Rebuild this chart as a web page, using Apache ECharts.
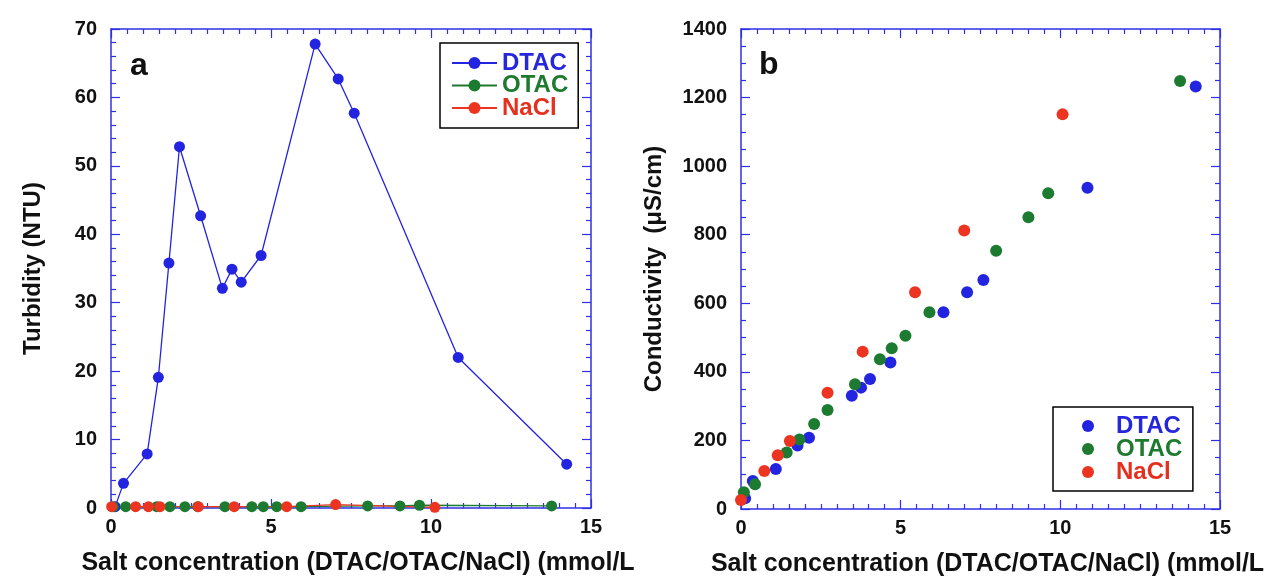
<!DOCTYPE html>
<html>
<head>
<meta charset="utf-8">
<script src="https://cdn.jsdelivr.net/npm/echarts/dist/echarts.min.js"></script>
<style>
html,body{margin:0;padding:0;background:#fff;}
#c{width:1265px;height:576px;}
</style>
</head>
<body>
<div id="c"></div>
<script>
// ---- Panel a: turbidity (NTU) ----
const dtacA_x = [0.13,0.39,1.13,1.48,1.81,2.14,2.80,3.48,3.78,4.07,4.69,6.38,7.10,7.60,10.85,14.24];
const dtacA_y = [0.2,3.6,7.9,19.1,35.8,52.8,42.7,32.1,34.9,33.0,36.9,67.8,62.7,57.7,22.0,6.4];
const otacA_x = [0.07,0.46,1.43,1.84,2.31,2.71,3.56,4.40,4.76,5.18,5.94,8.02,9.03,9.64,13.77];
const otacA_y = [0.2,0.2,0.2,0.2,0.2,0.2,0.2,0.2,0.2,0.2,0.2,0.3,0.3,0.4,0.3];
const naclA_x = [0.02,0.77,1.17,1.53,2.73,3.85,5.49,7.02,10.12];
const naclA_y = [0.2,0.2,0.2,0.2,0.2,0.2,0.2,0.5,0.1];

// ---- Panel b: conductivity (uS/cm) ----
const dtacB_x = [0.13,0.37,1.09,1.77,2.13,3.47,3.76,4.04,4.68,6.34,7.08,7.59,10.85,14.24];
const dtacB_y = [31,82,117,185,208,330,354,379,427,574,632,668,937,1232];
const otacB_x = [0.09,0.44,1.43,1.83,2.29,2.71,3.57,4.35,4.72,5.15,5.90,7.99,9.00,9.62,13.75];
const otacB_y = [49,72,165,203,248,289,364,437,469,505,574,753,851,921,1248];
const naclB_x = [0,0.73,1.15,1.53,2.71,3.81,5.45,6.99,10.07];
const naclB_y = [26,111,157,198,339,459,632,812,1151];

const seriesNames = ['DTAC','OTAC','NaCl'];
const xName = 'Salt concentration (DTAC/OTAC/NaCl) (mmol/L';
const yNameA = 'Turbidity (NTU)';
const yNameB = 'Conductivity  (\u03bcS/cm)';
const panelLabels = ['a','b'];

const C_BLUE = '#2224e0', C_GREEN = '#1c7b30', C_RED = '#ec3420';
const T_BLUE = '#2626dc', T_GREEN = '#1e7a2e', T_RED = '#e6301e';
const FRAME = '#2f2fe6';
const FONT = '"Liberation Sans", Arial, Helvetica, sans-serif';

const zip = (xs, ys) => xs.map((x, i) => [x, ys[i]]);

function axisBase(extra) {
  return Object.assign({
    type: 'value',
    axisLine: {show: true, onZero: false, lineStyle: {color: FRAME, width: 1.5}},
    axisTick: {show: true, inside: true, length: 9, lineStyle: {color: FRAME, width: 1.2}},
    splitLine: {show: false},
    minorSplitLine: {show: false}
  }, extra);
}

const labelStyle = {color: '#111', fontFamily: FONT, fontWeight: 'bold', fontSize: 20};
const nameStyle = {color: '#111', fontFamily: FONT, fontWeight: 'bold', fontSize: 24};
const xNameStyle = {color: '#111', fontFamily: FONT, fontWeight: 'bold', fontSize: 25, padding: [0, 0, 0, 14]};
const plain = (v) => String(v);

function xAxes(gi) {
  const mt = {show: true, splitNumber: 10, length: 5, lineStyle: {color: FRAME, width: 1.2}};
  return [
    axisBase({gridIndex: gi, min: 0, max: 15, interval: 5, position: 'bottom', minorTick: mt,
      axisLabel: Object.assign({margin: 9, formatter: plain}, labelStyle),
      name: xName, nameLocation: 'middle', nameGap: 43, nameTextStyle: xNameStyle}),
    axisBase({gridIndex: gi, min: 0, max: 15, interval: 5, position: 'top', minorTick: mt,
      axisLabel: {show: false}})
  ];
}
function yAxes(gi, max, interval, name, nameGap) {
  const mt = {show: true, splitNumber: interval === 10 ? 5 : 4, length: 5, lineStyle: {color: FRAME, width: 1.2}};
  return [
    axisBase({gridIndex: gi, min: 0, max: max, interval: interval, position: 'left', minorTick: mt,
      axisLabel: Object.assign({margin: 14, formatter: plain}, labelStyle),
      name: name, nameLocation: 'middle', nameGap: nameGap, nameRotate: 90, nameTextStyle: nameStyle}),
    axisBase({gridIndex: gi, min: 0, max: max, interval: interval, position: 'right', minorTick: mt,
      axisLabel: {show: false}})
  ];
}

const chart = echarts.init(document.getElementById('c'), null, {renderer: 'canvas'});
const legendText = (c) => ({color: c});
const option = {
  animation: false,
  backgroundColor: '#fff',
  title: [
    {text: panelLabels[0], left: 125, top: 45, textStyle: {fontFamily: FONT, fontWeight: 'bold', fontSize: 32, color: '#111'}},
    {text: panelLabels[1], left: 754, top: 44, textStyle: {fontFamily: FONT, fontWeight: 'bold', fontSize: 32, color: '#111'}}
  ],
  grid: [
    {left: 111, top: 29, width: 480, height: 479, containLabel: false, outerBoundsMode: 'none'},
    {left: 741, top: 29, width: 479, height: 480, containLabel: false, outerBoundsMode: 'none'}
  ],
  xAxis: [...xAxes(0), ...xAxes(1)],
  yAxis: [...yAxes(0, 70, 10, yNameA, 66), ...yAxes(1, 1400, 200, yNameB, 75)],
  legend: [
    {
      orient: 'vertical', left: 440, top: 43,
      padding: [8, 10, 8, 11], itemGap: -1.5,
      itemWidth: 45, itemHeight: 15,
      borderColor: '#000', borderWidth: 1.5,
      data: [
        {name: seriesNames[0], textStyle: legendText(T_BLUE)},
        {name: seriesNames[1], textStyle: legendText(T_GREEN)},
        {name: seriesNames[2], textStyle: legendText(T_RED)}
      ],
      textStyle: {fontFamily: FONT, fontWeight: 'bold', fontSize: 24}
    },
    {
      orient: 'vertical', left: 1053, top: 407,
      padding: [7, 4, 7, 29], itemGap: -1,
      itemWidth: 46, itemHeight: 12, icon: 'circle',
      borderColor: '#000', borderWidth: 1.5,
      data: [
        {name: seriesNames[0] + ' ', textStyle: legendText(T_BLUE)},
        {name: seriesNames[1] + ' ', textStyle: legendText(T_GREEN)},
        {name: seriesNames[2] + ' ', textStyle: legendText(T_RED)}
      ],
      textStyle: {fontFamily: FONT, fontWeight: 'bold', fontSize: 24}
    }
  ],
  series: [
    {name: seriesNames[0], type: 'line', xAxisIndex: 0, yAxisIndex: 0, data: zip(dtacA_x, dtacA_y),
      symbol: 'circle', symbolSize: 11, itemStyle: {color: C_BLUE}, lineStyle: {color: C_BLUE, width: 1.3}},
    {name: seriesNames[1], type: 'line', xAxisIndex: 0, yAxisIndex: 0, data: zip(otacA_x, otacA_y),
      symbol: 'circle', symbolSize: 11, itemStyle: {color: C_GREEN}, lineStyle: {color: C_GREEN, width: 1.3}},
    {name: seriesNames[2], type: 'line', xAxisIndex: 0, yAxisIndex: 0, data: zip(naclA_x, naclA_y),
      symbol: 'circle', symbolSize: 11, itemStyle: {color: C_RED}, lineStyle: {color: C_RED, width: 1.3}},
    {name: seriesNames[0] + ' ', type: 'scatter', xAxisIndex: 2, yAxisIndex: 2, data: zip(dtacB_x, dtacB_y),
      symbolSize: 12, itemStyle: {color: C_BLUE, opacity: 1}},
    {name: seriesNames[1] + ' ', type: 'scatter', xAxisIndex: 2, yAxisIndex: 2, data: zip(otacB_x, otacB_y),
      symbolSize: 12, itemStyle: {color: C_GREEN, opacity: 1}},
    {name: seriesNames[2] + ' ', type: 'scatter', xAxisIndex: 2, yAxisIndex: 2, data: zip(naclB_x, naclB_y),
      symbolSize: 12, itemStyle: {color: C_RED, opacity: 1}}
  ]
};
chart.setOption(option);
</script>
</body>
</html>
